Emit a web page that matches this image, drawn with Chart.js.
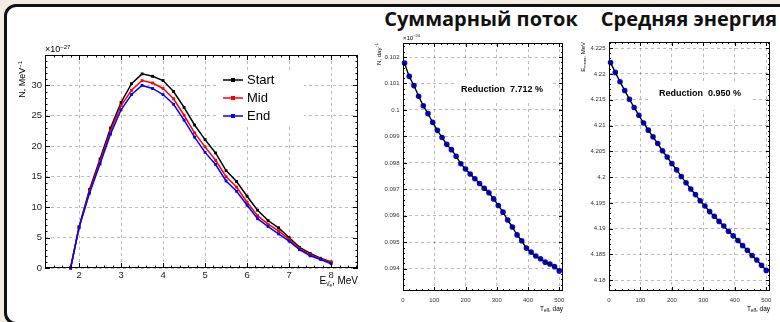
<!DOCTYPE html>
<html>
<head>
<meta charset="utf-8">
<script src="https://cdn.jsdelivr.net/npm/chart.js@4.4.1/dist/chart.umd.min.js"></script>
<style>
  body { margin: 0; width: 780px; height: 322px; overflow: hidden; background: #f2ece1; position: relative; }
  #panel { position: absolute; left: 4px; top: 4px; width: 820px; height: 315px; border: 3px solid #111; border-radius: 12px; background: #fff; }
  .title { position: absolute; top: 9px; font: bold 20px/20px "Open Sans", sans-serif; color: #111; white-space: nowrap; transform: translateX(-50%); }
  canvas { position: absolute; left: 0; top: 0; }
</style>
</head>
<body>
<div id="panel"></div>
<div class="title" style="left:481px">Суммарный поток</div>
<div class="title" style="left:689px">Средняя энергия</div>
<canvas id="spectrum" width="780" height="322"></canvas>
<canvas id="flux" width="780" height="322"></canvas>
<canvas id="energy" width="780" height="322"></canvas>
<script>
// Spectrum, x10^-27 per MeV
const energy = [1.8, 2.0, 2.25, 2.5, 2.75, 3.0, 3.25, 3.5, 3.75, 4.0, 4.25, 4.5, 4.75, 5.0, 5.25, 5.5, 5.75, 6.0, 6.25, 6.5, 6.75, 7.0, 7.25, 7.5, 7.75, 8.0];
const startN = [0, 6.8, 12.9, 17.9, 23.0, 27.2, 30.3, 31.9, 31.5, 30.8, 29.0, 26.4, 23.5, 21.1, 18.9, 16.0, 14.2, 11.8, 9.5, 7.8, 6.6, 5.0, 3.4, 2.4, 1.6, 1.0];
const midN = [0, 6.7, 12.6, 17.5, 22.5, 26.7, 29.2, 30.8, 30.4, 29.5, 27.8, 25.1, 22.2, 19.9, 17.7, 15.0, 13.3, 10.8, 8.6, 7.2, 6.1, 4.7, 3.2, 2.2, 1.5, 0.9];
const endN = [0, 6.6, 12.3, 17.1, 22.0, 26.0, 28.5, 30.0, 29.5, 28.5, 26.9, 24.3, 21.5, 19.0, 17.0, 14.3, 12.6, 10.3, 8.1, 6.8, 5.6, 4.4, 3.0, 2.0, 1.4, 0.7];
const energyTicks = [2, 3, 4, 5, 6, 7, 8];
const spectrumTicks = [0, 5, 10, 15, 20, 25, 30];

// Time series
const days = [5, 20, 35, 50, 65, 80, 95, 110, 125, 140, 155, 170, 185, 200, 215, 230, 245, 260, 275, 290, 305, 320, 335, 350, 365, 380, 395, 410, 425, 440, 455, 470, 485, 500];
const fluxN = [0.10177, 0.10127, 0.10092, 0.10052, 0.10016, 0.09986, 0.09953, 0.09923, 0.09896, 0.09870, 0.09850, 0.09825, 0.09797, 0.09777, 0.09758, 0.09740, 0.09722, 0.09704, 0.09687, 0.09664, 0.09639, 0.09614, 0.09584, 0.09558, 0.09528, 0.09506, 0.09478, 0.09463, 0.09448, 0.09438, 0.09425, 0.09418, 0.09408, 0.09392];
const meanE = [4.2222, 4.2203, 4.2185, 4.2168, 4.2151, 4.2135, 4.2120, 4.2105, 4.2091, 4.2078, 4.2065, 4.2051, 4.2039, 4.2026, 4.2014, 4.2001, 4.1989, 4.1977, 4.1966, 4.1954, 4.1944, 4.1933, 4.1924, 4.1914, 4.1905, 4.1895, 4.1886, 4.1877, 4.1867, 4.1858, 4.1848, 4.1839, 4.1829, 4.1819];
const dayTicks = [0, 100, 200, 300, 400, 500];
const fluxTicks = [0.094, 0.095, 0.096, 0.097, 0.098, 0.099, 0.1, 0.101, 0.102];
const meanETicks = [4.18, 4.185, 4.19, 4.195, 4.2, 4.205, 4.21, 4.215, 4.22, 4.225];

const FONT = '"Liberation Sans", Arial, sans-serif';
const f = (size, bold) => (bold ? 'bold ' : '') + size + 'px ' + FONT;

function drawRich(ctx, parts, x, y, align) {
    let w = 0;
    parts.forEach(p => { ctx.font = p.font; w += ctx.measureText(p.t).width; });
    let cx = align === 'right' ? x - w : x;
    ctx.textAlign = 'left';
    ctx.textBaseline = 'middle';
    parts.forEach(p => {
        ctx.font = p.font;
        ctx.fillText(p.t, cx, y + (p.dy || 0));
        cx += ctx.measureText(p.t).width;
    });
}

// ROOT-like frame: inner ticks on all sides, pave boxes, legend, axis titles
const rootStyle = {
    id: 'rootStyle',
    afterDatasetsDraw(chart, args, o) {
        const { ctx, chartArea: a, scales: { x, y } } = chart;
        ctx.save();

        (o.paves || []).forEach(p => {
            ctx.fillStyle = '#fff';
            ctx.fillRect(p.box.x, p.box.y, p.box.w, p.box.h);
            ctx.fillStyle = '#000';
            ctx.font = f(9, true);
            ctx.textAlign = 'center';
            ctx.textBaseline = 'middle';
            ctx.fillText(p.text, p.x, p.y);
        });

        ctx.strokeStyle = '#000';
        ctx.lineWidth = 1;
        ctx.strokeRect(a.left + 0.5, a.top + 0.5, a.width - 1, a.height - 1);

        const marks = (scale, step) => {
            const out = [];
            for (let i = Math.ceil(scale.min / step - 1e-6); i * step <= scale.max + 1e-9; i++) out.push(i * step);
            return out;
        };
        const xt = (v, len) => {
            const px = Math.round(x.getPixelForValue(v)) + 0.5;
            ctx.moveTo(px, a.bottom); ctx.lineTo(px, a.bottom - len);
            ctx.moveTo(px, a.top); ctx.lineTo(px, a.top + len);
        };
        const yt = (v, len) => {
            const py = Math.round(y.getPixelForValue(v)) + 0.5;
            ctx.moveTo(a.left, py); ctx.lineTo(a.left + len, py);
            ctx.moveTo(a.right, py); ctx.lineTo(a.right - len, py);
        };
        ctx.beginPath();
        marks(x, o.xMinor).forEach(v => xt(v, o.minor));
        x.ticks.forEach(t => xt(t.value, o.major));
        marks(y, o.yMinor).forEach(v => yt(v, o.minor));
        y.ticks.forEach(t => yt(t.value, o.major));
        ctx.stroke();

        if (o.legend) {
            const L = o.legend;
            ctx.fillStyle = '#fff';
            ctx.fillRect(L.box.x, L.box.y, L.box.w, L.box.h);
            chart.data.datasets.forEach((ds, i) => {
                const yy = L.y + i * L.dy;
                ctx.strokeStyle = ds.borderColor;
                ctx.lineWidth = ds.borderWidth;
                ctx.beginPath();
                ctx.moveTo(L.x, yy);
                ctx.lineTo(L.x + L.len, yy);
                ctx.stroke();
                ctx.fillStyle = ds.backgroundColor;
                ctx.fillRect(L.x + L.len / 2 - 2, yy - 2, 4, 4);
                ctx.fillStyle = '#000';
                ctx.font = L.font;
                ctx.textAlign = 'left';
                ctx.textBaseline = 'middle';
                ctx.fillText(ds.label, L.x + L.len + 4, yy);
            });
        }

        (o.labels || []).forEach(l => {
            ctx.save();
            ctx.fillStyle = '#000';
            ctx.translate(l.x, l.y);
            if (l.rotate) ctx.rotate(-Math.PI / 2);
            drawRich(ctx, l.parts, 0, 0, l.align);
            ctx.restore();
        });
        ctx.restore();
    }
};

function axis(o) {
    return {
        type: 'linear',
        min: o.min,
        max: o.max,
        afterBuildTicks: s => { s.ticks = o.ticks.map(v => ({ value: v })); },
        afterFit: s => { if (s.isHorizontal()) s.height = 20; else s.width = 20; },
        grid: { color: 'rgba(0,0,0,0.27)', lineWidth: 1, drawTicks: false },
        border: { display: false, dash: [3, 3] },
        ticks: {
            font: { family: FONT, size: o.size },
            color: o.color,
            padding: o.pad,
            maxRotation: 0,
            autoSkip: false,
            callback: v => String(parseFloat(v.toFixed(6)))
        }
    };
}

const pts = (xs, ys) => xs.map((v, i) => ({ x: v, y: ys[i] }));

function spectrumSet(label, values, color, order) {
    return {
        label: label,
        data: pts(energy, values),
        borderColor: color,
        backgroundColor: color,
        borderWidth: 1.5,
        pointStyle: 'rect',
        pointRadius: 2,
        pointBorderWidth: 0,
        tension: 0,
        clip: false,
        order: order
    };
}

new Chart(document.getElementById('spectrum'), {
    type: 'line',
    data: {
        datasets: [
            spectrumSet('Start', startN, '#000000', 2),
            spectrumSet('Mid', midN, '#ff0000', 1),
            spectrumSet('End', endN, '#0000ff', 0)
        ]
    },
    options: {
        responsive: false, animation: false, events: [],
        layout: { padding: { left: 25, top: 55, right: 422, bottom: 34 } },
        scales: {
            x: axis({ min: 1.19, max: 8.64, ticks: energyTicks, size: 9.5, color: '#222', pad: 2 }),
            y: axis({ min: 0, max: 35, ticks: spectrumTicks, size: 9.5, color: '#222', pad: 3 })
        },
        plugins: {
            legend: { display: false },
            tooltip: { enabled: false },
            rootStyle: {
                xMinor: 0.2, yMinor: 1, major: 5, minor: 2.5,
                legend: { x: 223, y: 80, dy: 18, len: 20, font: f(13), box: { x: 218, y: 70, w: 86, h: 56 } },
                labels: [
                    { x: 45, y: 50, parts: [{ t: '×10', font: f(9) }, { t: '\u221227', font: f(6), dy: -3 }] },
                    { x: 23, y: 61, rotate: true, align: 'right', parts: [{ t: 'N, MeV', font: f(9) }, { t: '\u22121', font: f(6), dy: -3 }] },
                    { x: 358, y: 281, align: 'right', parts: [{ t: 'E', font: f(10) }, { t: 'ν̄', font: f(6.5), dy: 3 }, { t: 'e', font: f(4.5), dy: 5 }, { t: ', MeV', font: f(10) }] }
                ]
            }
        }
    },
    plugins: [rootStyle]
});

function timeChart(id, values, yMin, yMax, yTicks, yMinor, pad, extra) {
    return new Chart(document.getElementById(id), {
        type: 'line',
        data: {
            datasets: [
                { data: pts(days, values), borderColor: '#000', borderWidth: 1.4, pointRadius: 0, cubicInterpolationMode: 'monotone', clip: false, order: 0 },
                { data: pts(days, values), showLine: false, pointRadius: 2.8, pointBorderWidth: 0, backgroundColor: '#0000ff', clip: false, order: 1 }
            ]
        },
        options: {
            responsive: false, animation: false, events: [],
            layout: { padding: pad },
            scales: {
                x: axis({ min: 0, max: 512, ticks: dayTicks, size: 6, color: '#333', pad: 6 }),
                y: axis({ min: yMin, max: yMax, ticks: yTicks, size: 6, color: '#333', pad: 3.5 })
            },
            plugins: {
                legend: { display: false },
                tooltip: { enabled: false },
                rootStyle: Object.assign({ xMinor: 20, yMinor: yMinor, major: 4, minor: 2 }, extra)
            }
        },
        plugins: [rootStyle]
    });
}

timeChart('flux', fluxN, 0.09316, 0.10253, fluxTicks, 0.0002,
    { left: 383, top: 43, right: 217, bottom: 11 },
    {
        paves: [{ text: 'Reduction  7.712 %', x: 502, y: 90, box: { x: 456, y: 76, w: 96, h: 27 } }],
        labels: [
            { x: 403, y: 38, parts: [{ t: '×10', font: f(6) }, { t: '\u221224', font: f(4), dy: -2 }] },
            { x: 379, y: 43, rotate: true, align: 'right', parts: [{ t: 'N, day', font: f(6) }, { t: '\u22121', font: f(4), dy: -2 }] },
            { x: 563, y: 309, align: 'right', parts: [{ t: 'T', font: f(6.5) }, { t: 'eff', font: f(4.5), dy: 2 }, { t: ', day', font: f(6.5) }] }
        ]
    });

timeChart('energy', meanE, 4.1779, 4.2262, meanETicks, 0.001,
    { left: 589, top: 42, right: 10, bottom: 11 },
    {
        paves: [{ text: 'Reduction  0.950 %', x: 700, y: 94, box: { x: 650, y: 82, w: 100, h: 28 } }],
        labels: [
            { x: 583, y: 42, rotate: true, align: 'right', parts: [{ t: 'E', font: f(6) }, { t: 'mean', font: f(4), dy: 2 }, { t: ', MeV', font: f(6) }] },
            { x: 770, y: 309, align: 'right', parts: [{ t: 'T', font: f(6.5) }, { t: 'eff', font: f(4.5), dy: 2 }, { t: ', day', font: f(6.5) }] }
        ]
    });
</script>
</body>
</html>
